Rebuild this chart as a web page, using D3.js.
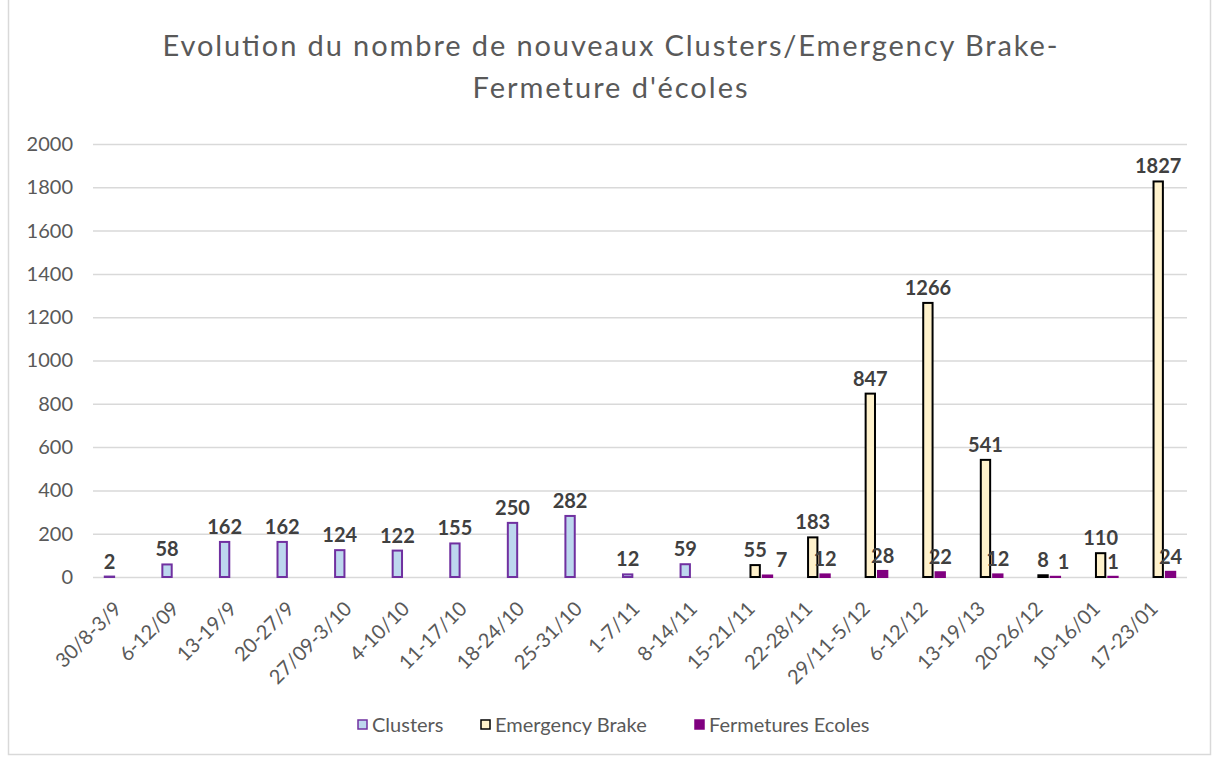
<!DOCTYPE html>
<html lang="fr">
<head>
    <meta charset="UTF-8" />
    <title>Evolution du nombre de nouveaux Clusters</title>
    <script src="https://d3js.org/d3.v7.min.js"></script>
    <style>
        body { margin: 0; background: #fff; }
        text { font-family: Lato, "Open Sans", sans-serif; }
    </style>
</head>
<body>
    <script>
        var w = 1212;
        var h = 758;

        // data
        var weeks = ["30/8-3/9", "6-12/09", "13-19/9", "20-27/9", "27/09-3/10", "4-10/10", "11-17/10",
            "18-24/10", "25-31/10", "1-7/11", "8-14/11", "15-21/11", "22-28/11", "29/11-5/12",
            "6-12/12", "13-19/13", "20-26/12", "10-16/01", "17-23/01"];
        var clusters = [2, 58, 162, 162, 124, 122, 155, 250, 282, 12, 59, null, null, null, null, null, null, null, null];
        var emergencyBrake = [null, null, null, null, null, null, null, null, null, null, null, 55, 183, 847, 1266, 541, 8, 110, 1827];
        var fermetures = [null, null, null, null, null, null, null, null, null, null, null, 7, 12, 28, 22, 12, 1, 1, 24];
        var yTicks = [0, 200, 400, 600, 800, 1000, 1200, 1400, 1600, 1800, 2000];

        var seriesNames = ["Clusters", "Emergency Brake", "Fermetures Ecoles"];
        var seriesValues = [clusters, emergencyBrake, fermetures];
        var fills = ["#bdd7ee", "#fff2cc", "#800080"];
        var strokes = ["#7030a0", "#000000", "#800080"];

        var plotLeft = 93, plotRight = 1187, plotTop = 144, plotBottom = 577;

        var svg = d3.select("body")
            .append("svg")
            .attr("width", w)
            .attr("height", h);

        svg.append("rect")
            .attr("x", 8.5).attr("y", -2)
            .attr("width", w - 10).attr("height", h - 1.5)
            .attr("fill", "#fff")
            .attr("stroke", "#d9d9d9")
            .attr("stroke-width", 1.5);

        // title
        svg.append("text")
            .attr("x", 610).attr("y", 56)
            .attr("text-anchor", "middle")
            .attr("font-size", 29)
            .attr("fill", "#595959")
            .attr("textLength", 895)
            .attr("lengthAdjust", "spacing")
            .text("Evolution du nombre de nouveaux Clusters/Emergency Brake-");
        svg.append("text")
            .attr("x", 610).attr("y", 98)
            .attr("text-anchor", "middle")
            .attr("font-size", 29)
            .attr("fill", "#595959")
            .attr("textLength", 275)
            .attr("lengthAdjust", "spacing")
            .text("Fermeture d'écoles");

        // scales
        var xScale = d3.scaleBand()
            .domain(weeks)
            .range([plotLeft, plotRight]);

        var subScale = d3.scaleBand()
            .domain(d3.range(seriesNames.length))
            .range([-19, 19])
            .padding(0.08);

        var yScale = d3.scaleLinear()
            .domain([0, 2000])
            .range([plotBottom, plotTop]);

        // y axis + gridlines
        var yAxis = svg.append("g")
            .attr("transform", "translate(" + plotLeft + ",0)")
            .call(d3.axisLeft(yScale)
                .tickValues(yTicks)
                .tickFormat(d3.format("d"))
                .tickSize(-(plotRight - plotLeft))
                .tickPadding(20));
        yAxis.select(".domain").remove();
        yAxis.selectAll(".tick line")
            .attr("stroke", "#d9d9d9")
            .attr("stroke-width", 1.5);
        yAxis.selectAll(".tick text")
            .attr("fill", "#595959")
            .attr("font-size", 20)
            .style("font-family", "Lato, sans-serif");

        // x labels
        svg.append("g")
            .selectAll("text")
            .data(weeks)
            .enter()
            .append("text")
            .attr("transform", function(d) {
                return "translate(" + (xScale(d) + xScale.bandwidth() / 2 - 4) + ",605) rotate(-45)";
            })
            .attr("text-anchor", "end")
            .attr("dy", "0.35em")
            .attr("font-size", 20)
            .attr("fill", "#595959")
            .text(function(d) { return d; });

        // bars + labels for each series
        var labelBoxes = [];
        var gap = 9;
        seriesValues.forEach(function(values, s) {
            var g = svg.append("g");
            var pts = values.map(function(v, i) { return { week: weeks[i], value: v }; })
                .filter(function(d) { return d.value !== null; });

            g.selectAll("rect")
                .data(pts)
                .enter()
                .append("rect")
                .attr("x", function(d) { return xScale(d.week) + xScale.bandwidth() / 2 + subScale(s) + 1; })
                .attr("y", function(d) { return yScale(d.value); })
                .attr("width", subScale.bandwidth() - 2)
                .attr("height", function(d) { return plotBottom - yScale(d.value); })
                .attr("fill", fills[s])
                .attr("stroke", strokes[s])
                .attr("stroke-width", 2);

            g.selectAll("text")
                .data(pts)
                .enter()
                .append("text")
                .attr("x", function(d) { return xScale(d.week) + xScale.bandwidth() / 2 + subScale(s) + subScale.bandwidth() / 2; })
                .attr("y", function(d) { return yScale(d.value) - 8; })
                .attr("text-anchor", "middle")
                .attr("font-size", 20)
                .attr("font-weight", "bold")
                .attr("fill", "#404040")
                .text(function(d) { return d.value; })
                .each(function() {
                    // nudge a label to the right if it sits too close to one already placed
                    var el = d3.select(this);
                    var b = this.getBBox();
                    labelBoxes.forEach(function(o) {
                        var hit = b.x < o.x + o.width + gap && b.x + b.width > o.x &&
                            b.y + 3 < o.y + o.height && b.y + b.height - 3 > o.y;
                        if (hit) {
                            var shift = o.x + o.width + gap - b.x;
                            el.attr("x", +el.attr("x") + shift);
                            b = this.getBBox();
                        }
                    }, this);
                    labelBoxes.push(b);
                });
        });

        // legend
        var legendX = [357, 480, 694];
        var legend = svg.append("g")
            .selectAll("g")
            .data(seriesNames)
            .enter()
            .append("g")
            .attr("transform", function(d, i) { return "translate(" + legendX[i] + ",725)"; });

        legend.append("rect")
            .attr("x", 1).attr("y", -5)
            .attr("width", 9).attr("height", 9)
            .attr("fill", function(d, i) { return fills[i]; })
            .attr("stroke", function(d, i) { return strokes[i]; })
            .attr("stroke-width", 1.5);

        legend.append("text")
            .attr("x", 15).attr("y", 0)
            .attr("dy", "0.35em")
            .attr("font-size", 20)
            .attr("fill", "#595959")
            .text(function(d) { return d; });
    </script>
</body>
</html>
